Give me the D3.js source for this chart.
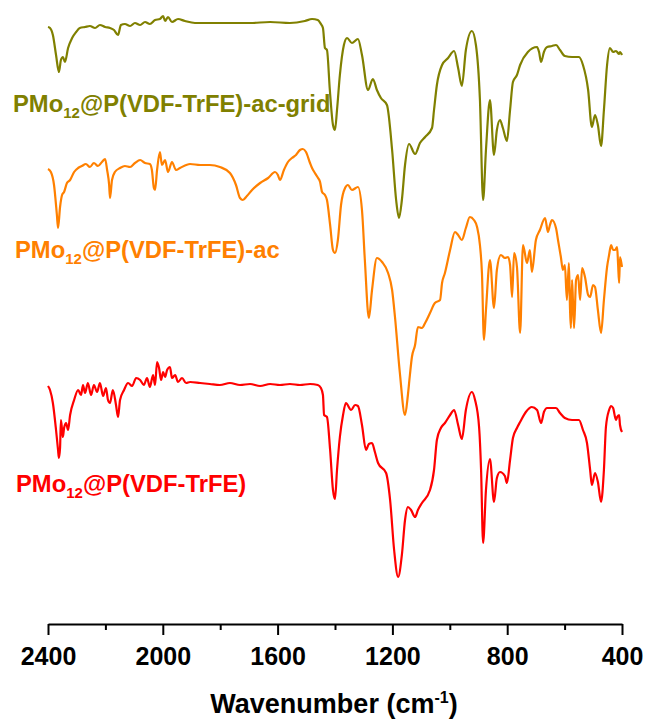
<!DOCTYPE html>
<html>
<head>
<meta charset="utf-8">
<script src="https://cdn.jsdelivr.net/npm/d3@7"></script>
<style>
	body { margin: 0; background: #fff; }
	svg text { font-family: "Liberation Sans", Arial, sans-serif; font-weight: bold; }
</style>
</head>
<body>
<div id="chartDiv"></div>
<script>
// FTIR spectra, [wavenumber (cm-1), transmittance (a.u., stacked)]
var gridSpectrum = [
	[2400,593],[2393,592],[2383,585],[2372,565],[2362,548],[2355,560],[2348,563],[2341,558],[2330,572],[2316,582],
	[2302,588],[2289,592],[2271,593],[2254,594],[2236,592],[2219,595],[2201,593],[2184,592],[2170,590],[2156,585],
	[2146,595],[2132,596],[2114,594],[2097,597],[2079,595],[2062,598],[2045,596],[2027,600],[2010,601],[1999,604],
	[1992,599],[1982,603],[1968,598],[1947,601],[1923,599],[1888,597],[1836,597],[1766,597],[1696,597],[1626,598],
	[1557,597],[1505,599],[1480,601],[1460,600],[1449,596],[1442,592],[1435,572],[1428,570],[1418,530],[1407,495],
	[1400,490],[1393,510],[1383,545],[1369,575],[1358,582],[1341,577],[1320,581],[1306,565],[1285,530],[1268,541],
	[1254,530],[1240,522],[1219,515],[1201,470],[1187,420],[1177,402],[1167,420],[1156,455],[1142,476],[1121,466],
	[1104,477],[1086,483],[1062,492],[1055,510],[1045,535],[1027,555],[1006,562],[985,569],[971,552],[958,534],
	[944,570],[923,589],[909,575],[895,520],[884,420],[874,470],[860,520],[846,465],[836,490],[825,500],
	[815,492],[801,479],[790,510],[780,538],[766,545],[755,555],[728,568],[696,573],[689,568],[682,558],
	[672,568],[661,573],[644,574],[630,575],[616,570],[599,564],[574,563],[550,563],[536,555],[518,530],
	[505,493],[494,505],[484,495],[473,474],[463,510],[452,555],[442,572],[431,568],[421,569],[410,566],
	[407,568],[400,565]
];

var acSpectrum = [
	[2400,451],[2390,448],[2379,435],[2369,405],[2365,392],[2358,413],[2351,425],[2344,428],[2334,437],[2323,440],
	[2309,448],[2295,452],[2282,454],[2268,456],[2254,453],[2240,457],[2226,454],[2212,458],[2201,461],[2194,450],
	[2187,435],[2184,422],[2177,440],[2167,448],[2149,452],[2132,454],[2114,453],[2097,457],[2079,460],[2062,457],
	[2045,456],[2038,450],[2031,432],[2027,430],[2020,450],[2010,468],[2003,455],[1992,460],[1982,448],[1968,458],
	[1954,450],[1940,452],[1905,456],[1870,455],[1836,455],[1801,453],[1766,447],[1745,435],[1731,422],[1721,420],
	[1707,424],[1689,430],[1661,437],[1633,442],[1609,448],[1599,445],[1592,440],[1578,450],[1564,458],[1550,462],
	[1536,465],[1522,470],[1512,471],[1501,468],[1487,457],[1480,452],[1470,447],[1459,442],[1452,438],[1445,428],
	[1435,425],[1428,420],[1417,395],[1407,370],[1400,367],[1390,380],[1379,415],[1365,432],[1355,435],[1341,430],
	[1320,433],[1306,410],[1296,360],[1282,302],[1271,330],[1254,362],[1236,358],[1215,347],[1201,330],[1191,303],
	[1174,247],[1156,205],[1146,225],[1139,245],[1132,263],[1121,275],[1111,293],[1097,292],[1086,297],[1069,307],
	[1052,317],[1034,320],[1027,337],[1017,347],[999,370],[982,388],[971,385],[958,380],[944,392],[930,403],
	[916,400],[905,393],[895,375],[888,347],[881,280],[874,310],[860,360],[846,312],[836,350],[822,365],
	[808,362],[797,363],[790,355],[783,323],[776,367],[766,353],[755,287],[745,375],[731,357],[721,370],
	[714,348],[700,380],[686,390],[668,402],[658,388],[651,395],[644,400],[630,392],[623,380],[613,363],
	[606,350],[599,355],[592,320],[585,357],[581,310],[578,292],[574,340],[571,320],[567,292],[560,340],
	[553,345],[546,320],[539,352],[529,343],[518,325],[511,323],[501,335],[494,333],[484,310],[473,287],
	[463,320],[452,353],[445,365],[438,375],[431,370],[424,370],[417,373],[414,358],[410,337],[407,363],
	[400,353]
];

var pristineSpectrum = [
	[2400,234],[2393,230],[2383,217],[2372,190],[2365,170],[2362,162],[2358,172],[2355,200],[2351,190],[2348,183],
	[2344,192],[2337,197],[2330,190],[2323,205],[2309,220],[2295,230],[2285,225],[2278,235],[2271,227],[2261,237],
	[2250,225],[2240,235],[2229,228],[2219,237],[2208,224],[2198,232],[2191,220],[2184,217],[2174,230],[2163,215],
	[2156,203],[2149,220],[2135,230],[2121,237],[2107,234],[2093,242],[2079,240],[2066,235],[2055,242],[2045,233],
	[2034,245],[2027,235],[2020,258],[2013,252],[2006,240],[1999,248],[1992,243],[1985,250],[1975,253],[1968,242],
	[1957,245],[1947,238],[1933,242],[1919,237],[1905,238],[1870,237],[1836,236],[1801,235],[1766,237],[1731,235],
	[1696,236],[1661,234],[1626,236],[1592,235],[1557,236],[1522,235],[1487,236],[1460,235],[1449,232],[1442,225],
	[1438,205],[1428,203],[1417,170],[1407,130],[1400,121],[1393,150],[1383,183],[1372,205],[1362,217],[1344,210],
	[1330,215],[1320,214],[1306,195],[1292,170],[1282,176],[1271,177],[1261,168],[1250,157],[1222,147],[1208,120],
	[1194,70],[1180,43],[1167,65],[1156,100],[1146,113],[1135,110],[1121,103],[1111,110],[1097,117],[1069,130],
	[1055,150],[1045,180],[1031,192],[1017,197],[999,205],[985,210],[971,195],[958,181],[944,210],[923,228],
	[912,220],[898,193],[891,150],[884,77],[874,130],[860,161],[846,118],[836,142],[825,148],[808,144],
	[801,137],[790,160],[780,182],[766,192],[755,198],[735,208],[714,213],[696,210],[682,197],[672,208],
	[661,212],[644,212],[630,212],[616,207],[599,202],[574,200],[550,200],[536,190],[522,177],[511,150],
	[505,135],[494,147],[484,138],[473,118],[463,150],[456,193],[445,210],[438,214],[431,212],[421,200],
	[417,203],[410,205],[407,195],[400,188]
];

var seriesNames = ["-ac-grid", "-ac", ""];
var seriesColors = ["#808000", "#FF8000", "#FF0000"];
var majorTicks = [2400, 2000, 1600, 1200, 800, 400];
var minorTicks = [2200, 1800, 1400, 1000, 600];

var width = 648, height = 724;

var svg = d3.select("#chartDiv").append("svg")
	.attr("width", width)
	.attr("height", height);

var x = d3.scaleLinear().domain([2400, 400]).range([48, 622]);
var y = d3.scaleLinear().domain([0, 600]).range([620, 20]);

var line = d3.line()
	.curve(d3.curveMonotoneX)
	.x(function(d) { return x(d[0]); })
	.y(function(d) { return y(d[1]); });

var spectra = [gridSpectrum, acSpectrum, pristineSpectrum];

svg.selectAll(".spectrum")
	.data(spectra)
	.enter().append("path")
	.attr("class", "spectrum")
	.attr("d", line)
	.attr("fill", "none")
	.attr("stroke", function(d, i) { return seriesColors[i]; })
	.attr("stroke-width", 2.2)
	.attr("stroke-linejoin", "round");

// sample labels (x, baseline)
var labelPos = [[13, 112], [15, 258], [16, 492]];
seriesNames.forEach(function(name, i) {
	var t = svg.append("text")
		.attr("x", labelPos[i][0])
		.attr("y", labelPos[i][1])
		.attr("fill", seriesColors[i])
		.style("font-size", "23.8px");
	t.append("tspan").text("PMo");
	t.append("tspan").attr("dy", 6).style("font-size", "15px").text("12");
	t.append("tspan").attr("dy", -6).text("@P(VDF-TrFE)" + name);
});

// x axis
var axisY = 624;
svg.append("g")
	.attr("transform", "translate(0," + axisY + ")")
	.call(d3.axisBottom(x).tickValues(minorTicks).tickSize(6).tickFormat(""))
	.call(function(g) { g.select(".domain").remove(); })
	.selectAll("line").attr("stroke", "#000").attr("stroke-width", 2);

var xAxis = svg.append("g")
	.attr("transform", "translate(0," + axisY + ")")
	.call(d3.axisBottom(x).tickValues(majorTicks).tickSize(11).tickSizeOuter(0).tickFormat(d3.format("d")));
xAxis.select(".domain").attr("stroke", "#000").attr("stroke-width", 2);
xAxis.selectAll("line").attr("stroke", "#000").attr("stroke-width", 2);
xAxis.selectAll("text")
	.attr("y", 41)
	.attr("dy", null)
	.attr("fill", "#000")
	.style("font-size", "25px")
	.style("font-family", "'Liberation Sans', Arial, sans-serif")
	.style("font-weight", "bold");

var title = svg.append("text")
	.attr("x", 334)
	.attr("y", 713)
	.attr("text-anchor", "middle")
	.attr("fill", "#000")
	.style("font-size", "27px");
title.append("tspan").text("Wavenumber (cm");
title.append("tspan").attr("dy", -10).style("font-size", "16px").text("-1");
title.append("tspan").attr("dy", 10).text(")");
</script>
</body>
</html>
